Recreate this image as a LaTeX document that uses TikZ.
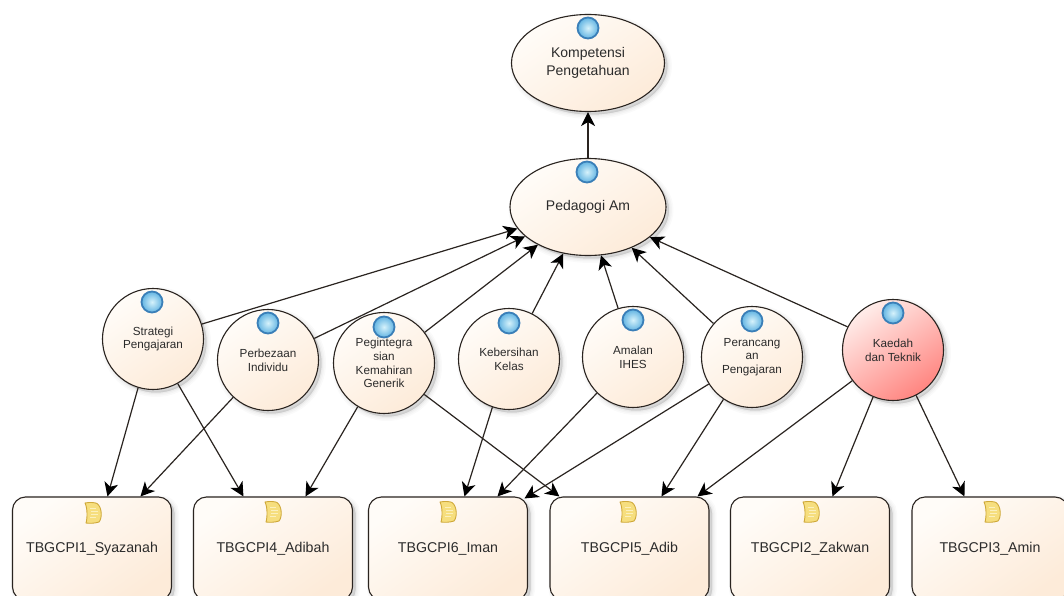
\documentclass[tikz,border=0pt]{standalone}
\usepackage{fontspec}
\setmainfont{Liberation Sans}
\usetikzlibrary{shapes.geometric,arrows.meta}
\definecolor{peachA}{HTML}{FFFCF8}
\definecolor{peachB}{HTML}{FDEBD9}
\definecolor{redA}{HTML}{FFEDEA}
\definecolor{redB}{HTML}{FF8580}
\definecolor{inkline}{HTML}{2A2420}
\definecolor{txtc}{HTML}{2B2B2B}
\definecolor{sphIn}{HTML}{D6F2FB}
\definecolor{sphOut}{HTML}{62B4E2}
\definecolor{sphRing}{HTML}{3A7FB8}
\definecolor{docFill}{HTML}{F6DE7E}
\definecolor{docEdge}{HTML}{CFA93A}
\definecolor{docLine}{HTML}{FBF0BE}
\tikzset{
  softshadow/.style={
    preaction={draw=black,fill=black,line width=9pt,opacity=.018,transform canvas={shift={(3pt,-3pt)}}},
    preaction={draw=black,fill=black,line width=6pt,opacity=.025,transform canvas={shift={(3pt,-3pt)}}},
    preaction={draw=black,fill=black,line width=3pt,opacity=.03,transform canvas={shift={(3pt,-3pt)}}},
    preaction={draw=black,fill=black,line width=0.5pt,opacity=.04,transform canvas={shift={(3pt,-3pt)}}}},
  peach/.style={top color=peachA,bottom color=peachB,shading angle=35},
  shapebase/.style={draw=inkline,line width=1.1pt,inner sep=0pt,align=center,text=txtc,softshadow},
  bigell/.style={shapebase,peach,ellipse,minimum width=153pt,minimum height=97pt,font=\fontsize{14}{18}\selectfont},
  circnode/.style={shapebase,peach,circle,minimum size=101pt,font=\fontsize{11.7}{13.7}\selectfont},
  redcirc/.style={circnode,top color=redA,bottom color=redB,shading angle=35},
  boxnode/.style={shapebase,peach,rectangle,rounded corners=13pt,minimum width=159pt,minimum height=103pt,font=\fontsize{14.2}{17}\selectfont},
  arr/.style={draw=inkline,line width=1.2pt,-{Stealth[length=14pt,width=14pt,inset=4pt,color=black]}},
  sphereic/.style={circle,minimum size=21pt,inner sep=0pt,draw=sphRing,line width=1.8pt,inner color=sphIn,outer color=sphOut},
  pics/docic/.style={code={
    \draw[draw=docEdge,fill=docFill,line width=.9pt,line join=round]
      (-8,-10) .. controls (-3,-11) and (2,-10.5) .. (4,-9.5)
      .. controls (9,-6) and (9.5,5) .. (6,9)
      .. controls (1,10.5) and (-3,10.5) .. (-7,10)
      .. controls (-5.5,5) and (-5.5,-5) .. (-8,-10) -- cycle;
    \draw[docLine,line width=.9pt] (-3,-5)--(3,-5) (-2,-2)--(5,-2) (-2,1)--(5,1) (-3,4)--(3,4);
  }}
}
\begin{document}
\begin{tikzpicture}[x=1pt,y=-1pt]
\clip (0,0) rectangle (1064,596);
\fill[white] (0,0) rectangle (1064,596);
% ellipses
\node[bigell] (komp) at (588,63) {Kompetensi\\Pengetahuan};
\node[bigell,minimum width=156pt] (ped) at (588,207) {Pedagogi Am};
% circles
\node[circnode] (str) at (153,339) {Strategi\\Pengajaran};
\node[circnode] (per) at (268,360) {Perbezaan\\Individu};
\node[circnode] (peg) at (384,363) {Pegintegra\\sian\\Kemahiran\\Generik};
\node[circnode] (keb) at (509,359) {Kebersihan\\Kelas};
\node[circnode] (ama) at (633,357) {Amalan\\IHES};
\node[circnode] (pran) at (752,357) {Perancang\\an\\Pengajaran};
\node[redcirc] (kae) at (893,350) {Kaedah\\dan Teknik};
% boxes
\node[boxnode] (t1) at (92,548.5) {TBGCPI1\_Syazanah};
\node[boxnode] (t4) at (273,548.5) {TBGCPI4\_Adibah};
\node[boxnode] (t6) at (448,548.5) {TBGCPI6\_Iman};
\node[boxnode] (t5) at (629.5,548.5) {TBGCPI5\_Adib};
\node[boxnode] (t2) at (810,548.5) {TBGCPI2\_Zakwan};
\node[boxnode,minimum width=156pt] (t3) at (990,548.5) {TBGCPI3\_Amin};
% connectors upward
\draw[arr] (ped.north) -- (komp.south);
\draw[arr] (str.17) -- (ped.197);
\draw[arr] (per.25) -- (ped.205);
\draw[arr] (peg.37) -- (ped.217);
\draw[arr] (keb.63) -- (ped.242.5);
\draw[arr] (ama.107) -- (ped.285.6);
\draw[arr] (pran.139) -- (ped.317);
\draw[arr] (kae.153) -- (ped.334);
% connectors downward
\draw[arr] (str.253) -- ([xshift=95.5pt]t1.north west);
\draw[arr] (per.227) -- ([xshift=128.5pt]t1.north west);
\draw[arr] (str.299) -- ([xshift=50.5pt]t4.north west);
\draw[arr] (peg.239) -- ([xshift=112.5pt]t4.north west);
\draw[arr] (peg.322) -- ([xshift=10pt]t5.north west);
\draw[arr] (keb.251.6) -- ([xshift=96.5pt]t6.north west);
\draw[arr] (ama.225) -- ([xshift=129.5pt]t6.north west);
\draw[arr] (pran.212.5) -- ([xshift=156.5pt,yshift=-2pt]t6.north west);
\draw[arr] (pran.236) -- ([xshift=112pt]t5.north west);
\draw[arr] (kae.217) -- ([xshift=148pt]t5.north west);
\draw[arr] (kae.247) -- ([xshift=102.5pt]t2.north west);
\draw[arr] (kae.297) -- ([xshift=53pt]t3.north west);
% icons
\node[sphereic] (ik) at (588,28) {};
\node[sphereic] (ip) at (587,172) {};
\node[sphereic] (is) at (152,302) {};
\node[sphereic] (ib) at (268,323) {};
\node[sphereic] (ig) at (384,327) {};
\node[sphereic] (ie) at (509,323) {};
\node[sphereic] (ia) at (633,320) {};
\node[sphereic] (ir) at (752,321) {};
\node[sphereic] (id) at (893,313) {};
\pic at (93,513) {docic};
\pic at (273,512) {docic};
\pic at (448,512) {docic};
\pic at (628,512) {docic};
\pic at (811,512) {docic};
\pic at (992,512) {docic};
\end{tikzpicture}
\end{document}
